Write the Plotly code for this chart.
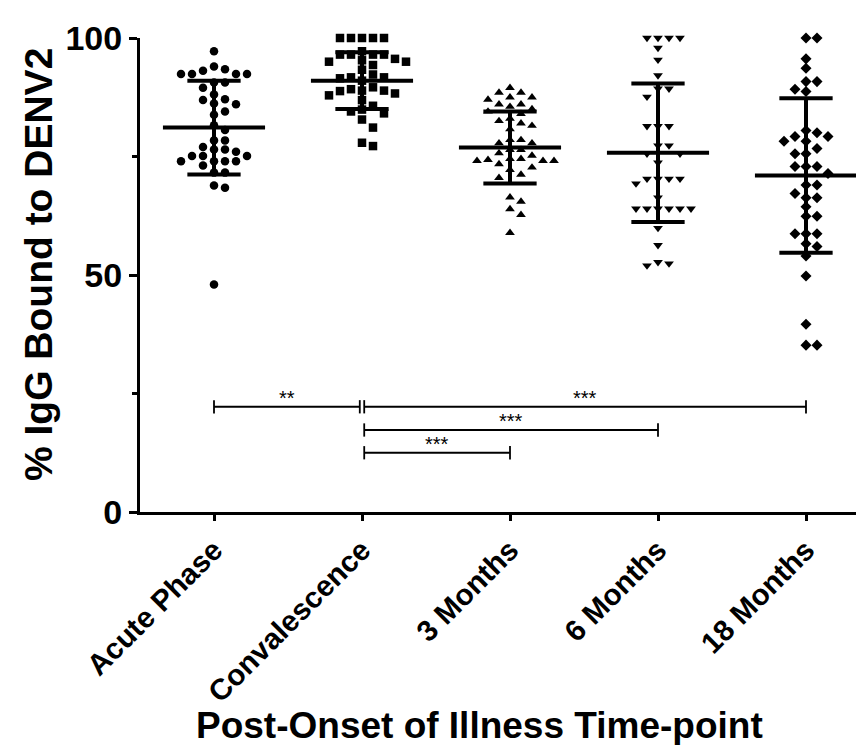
import numpy as np
import plotly.graph_objects as go

categories = ["Acute Phase", "Convalescence", "3 Months", "6 Months", "18 Months"]

acute = [97.2, 93.4, 94.0, 93.1, 92.4, 92.4, 92.4, 92.4, 90.6, 90.6, 89.5, 88.1,
         87.1, 86.9, 86.0, 86.2, 84.5, 83.8, 81.6, 80.6, 78.4, 78.4, 77.0, 76.5,
         76.5, 76.0, 75.1, 75.1, 75.1, 74.0, 74.0, 74.0, 74.0, 73.1, 71.6, 71.6,
         68.9, 68.4, 48.0]
conv = [100, 100, 100, 100, 100, 97.2, 96.5, 96.5, 96.5, 96.5, 95.0, 94.3, 95.3,
        95.6, 95.0, 93.3, 91.7, 91.5, 92.3, 91.7, 91.0, 88.9, 88.8, 87.9, 88.3,
        88.9, 89.2, 89.6, 86.9, 85.7, 84.5, 84.1, 84.9, 82.8, 81.1, 77.2, 77.9]
m3 = [89.5, 88.5, 88.5, 87.5, 87.5, 87.0, 86.0, 86.0, 85.5, 85.0, 84.5, 84.0,
      83.0, 82.5, 82.0, 81.5, 80.8, 78.5, 78.5, 77.8, 77.8, 76.4, 76.4, 75.2,
      75.7, 74.1, 74.1, 73.4, 74.5, 74.3, 74.1, 74.5, 72.2, 72.7, 71.2, 70.5,
      66.4, 65.5, 63.9, 62.7, 58.9]
m6 = [100, 100, 100, 100, 97.9, 95.4, 92.1, 89.3, 89.3, 87.6, 81.4, 81.4, 81.4,
      77.3, 77.3, 75.6, 75.6, 73.7, 70.3, 70.3, 70.3, 70.3, 69.3, 66.3, 64.0,
      64.0, 64.0, 64.0, 64.0, 64.0, 59.9, 56.3, 52.7, 52.0, 52.4]
m18 = [100, 100, 95.6, 93.6, 90.8, 90.8, 89.2, 88.7, 80.5, 80.0, 79.2, 79.2,
       78.2, 78.2, 76.7, 75.6, 75.6, 72.9, 72.9, 72.9, 71.4, 69.0, 69.0, 67.2,
       66.3, 66.3, 64.4, 62.4, 62.4, 58.7, 58.7, 58.7, 56.6, 56.0, 54.0, 49.8,
       39.6, 35.2, 35.2]

group_means = [81.1, 91.0, 76.9, 75.8, 71.0]
group_sds = [9.9, 6.0, 7.6, 14.6, 16.3]

comp_from = [0, 1, 1, 1]
comp_to = [1, 4, 3, 2]
comp_labels = ["**", "***", "***", "***"]
comp_y = [22.2, 22.2, 17.3, 12.5]

groups = [acute, conv, m3, m6, m18]
symbols = ["circle", "square", "triangle-up", "triangle-down", "diamond"]

# plot geometry (pixels)
W, H = 864, 745
ML, MR, MT, MB = 132, 10, 30, 241
PW = W - ML - MR
PH = H - MT - MB
XR = [-0.5, -0.5 + PW / 148.0]
px_per_x = PW / (XR[1] - XR[0])
px_per_y = PH / 100.0


def swarm(vals, d=9.0, step=11.0):
    vals = np.asarray(vals, dtype=float)
    order = np.argsort(-vals, kind="stable")
    placed = []
    offs = np.zeros(len(vals))
    ks = [0]
    for k in range(1, 12):
        ks += [k, -k]
    for i in order:
        y = vals[i] * px_per_y
        for k in ks:
            x = k * step
            if all((x - a) ** 2 + (y - b) ** 2 >= d * d for a, b in placed):
                break
        placed.append((x, y))
        offs[i] = x / px_per_x
    return offs


fig = go.Figure()
for gi, vals in enumerate(groups):
    offs = swarm(vals)
    fig.add_trace(go.Scatter(
        x=[gi + o for o in offs], y=vals, mode="markers",
        marker=dict(symbol=symbols[gi], size=8.5, color="black",
                    line=dict(width=0)),
        showlegend=False, cliponaxis=False, hoverinfo="y"))

shapes = []
LW = 4
for gi, (m, s) in enumerate(zip(group_means, group_sds)):
    shapes.append(dict(type="line", x0=gi - 0.345, x1=gi + 0.345, y0=m, y1=m,
                       line=dict(color="black", width=LW)))
    shapes.append(dict(type="line", x0=gi, x1=gi, y0=m - s, y1=m + s,
                       line=dict(color="black", width=LW)))
    for v in (m - s, m + s):
        shapes.append(dict(type="line", x0=gi - 0.18, x1=gi + 0.18, y0=v, y1=v,
                           line=dict(color="black", width=LW)))

annotations = []
tick_h = 1.4
for a, b, lab, yv in zip(comp_from, comp_to, comp_labels, comp_y):
    xa = a + (0.015 if a == 1 else 0)
    xb = b - (0.015 if b == 1 else 0)
    shapes.append(dict(type="line", x0=xa, x1=xb, y0=yv, y1=yv,
                       line=dict(color="black", width=1.8)))
    for xx in (xa, xb):
        shapes.append(dict(type="line", x0=xx, x1=xx, y0=yv - tick_h, y1=yv + tick_h,
                           line=dict(color="black", width=1.8)))
    annotations.append(dict(x=(xa + xb) / 2, y=yv, text=lab, showarrow=False,
                            yanchor="bottom", yshift=-4,
                            font=dict(size=20, color="black",
                                      family="Liberation Sans, Arial")))

FONT = "Liberation Sans, Arial, sans-serif"
annotations.append(dict(xref="paper", yref="paper", x=(471 - ML) / PW,
                        y=-(717 - (MT + PH)) / PH, text="<b>Post-Onset of Illness Time-point</b>",
                        showarrow=False, xanchor="center", yanchor="middle",
                        font=dict(size=37, family=FONT, color="black")))
annotations.append(dict(xref="paper", yref="paper", x=-(ML - 30) / PW, y=(MT + PH - 257) / PH,
                        text="<b>% IgG Bound to DENV2</b>", textangle=-90,
                        showarrow=False, xanchor="center", yanchor="middle",
                        font=dict(size=39, family=FONT, color="black")))

fig.update_layout(
    width=W, height=H, margin=dict(l=ML, r=MR, t=MT, b=MB),
    plot_bgcolor="white", paper_bgcolor="white",
    shapes=shapes, annotations=annotations,
    font=dict(family=FONT, color="black"),
)
fig.update_xaxes(range=XR, tickmode="array", tickvals=list(range(5)),
                 ticktext=["<b>%s</b>" % c for c in categories], tickangle=-45,
                 tickfont=dict(size=29.5, family=FONT, color="black"),
                 showline=True, linewidth=3, linecolor="black", ticks="outside",
                 ticklen=6, tickwidth=3, tickcolor="black", showgrid=False,
                 zeroline=False)
fig.update_yaxes(range=[0, 100], tickmode="array", tickvals=[0, 50, 100],
                 ticktext=["<b>0</b>", "<b>50</b>", "<b>100</b>"],
                 tickfont=dict(size=34, family=FONT, color="black"),
                 showline=True, linewidth=3, linecolor="black", ticks="outside",
                 ticklen=8, tickwidth=3, tickcolor="black", showgrid=False,
                 zeroline=False,
                 minor=dict(tickvals=[25, 75], ticks="outside", ticklen=5,
                            tickwidth=3, tickcolor="black", showgrid=False))

fig.write_html("out.html")
